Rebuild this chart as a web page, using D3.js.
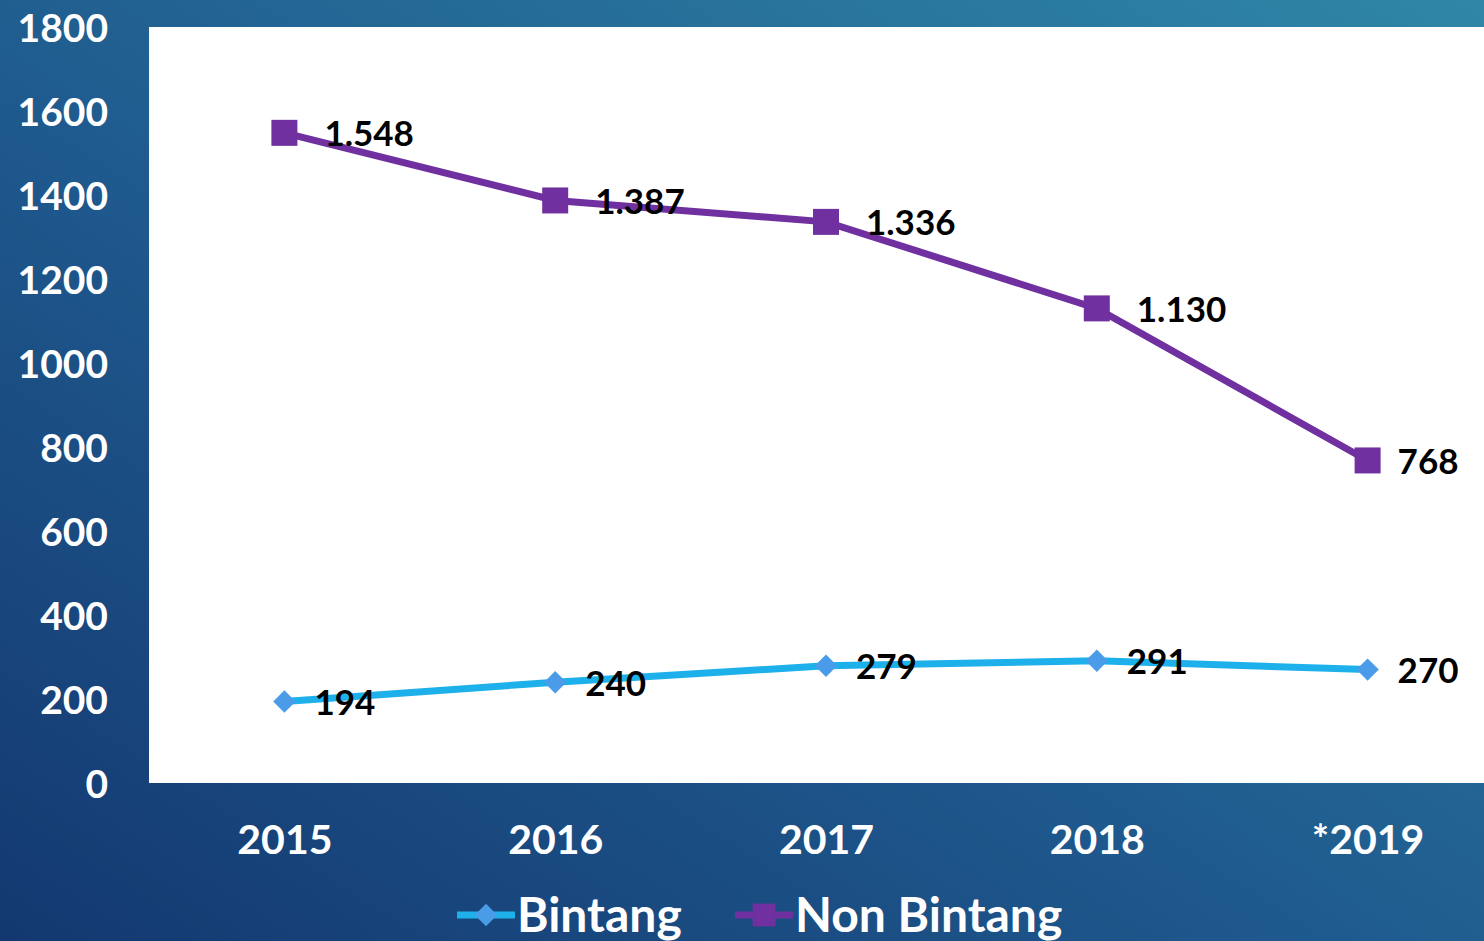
<!DOCTYPE html>
<html>
<head>
<meta charset="utf-8">
<script src="https://cdn.jsdelivr.net/npm/d3@7"></script>
<style>
  html, body { margin: 0; padding: 0; overflow: hidden; }
  body { width: 1484px; height: 941px; }
  text { font-family: "Lato", "DejaVu Sans", sans-serif; }
</style>
</head>
<body>
<div id="chart"></div>
<script>
// chart data
const years = ["2015", "2016", "2017", "2018", "*2019"];
const bintang = [194, 240, 279, 291, 270];
const nonBintang = [1548, 1387, 1336, 1130, 768];
const yTicks = [0, 200, 400, 600, 800, 1000, 1200, 1400, 1600, 1800];
const seriesNames = ["Bintang", "Non Bintang"];

const width = 1484;
const height = 941;
const plot = { left: 149, top: 27, right: 1503, bottom: 783 };

const svg = d3.select("#chart").append("svg")
    .attr("width", width)
    .attr("height", height);

// background gradient
const defs = svg.append("defs");
const grad = defs.append("linearGradient")
    .attr("id", "bg")
    .attr("x1", "0%").attr("y1", "100%")
    .attr("x2", "100%").attr("y2", "0%");
grad.append("stop").attr("offset", "0%").attr("stop-color", "#133870");
grad.append("stop").attr("offset", "45%").attr("stop-color", "#1f5a8e");
grad.append("stop").attr("offset", "100%").attr("stop-color", "#2f87a7");

svg.append("rect")
    .attr("width", width)
    .attr("height", height)
    .attr("fill", "url(#bg)");

// white plot area
svg.append("rect")
    .attr("x", plot.left)
    .attr("y", plot.top)
    .attr("width", width - plot.left)
    .attr("height", plot.bottom - plot.top)
    .attr("fill", "#ffffff");

const x = d3.scalePoint()
    .domain(years)
    .range([plot.left, plot.right])
    .padding(0.5);

const y = d3.scaleLinear()
    .domain([0, 1800])
    .range([plot.bottom, plot.top]);

// y axis
const yAxis = svg.append("g")
    .attr("transform", `translate(${plot.left},0)`)
    .call(d3.axisLeft(y).tickValues(yTicks).tickSize(0).tickPadding(41).tickFormat(d3.format("d")));
yAxis.select(".domain").remove();
yAxis.selectAll("text")
    .attr("fill", "#ffffff")
    .attr("font-size", 39)
    .attr("font-weight", "bold")
    .attr("dy", "0.36em");

// x axis
const xAxis = svg.append("g")
    .attr("transform", `translate(0,${plot.bottom})`)
    .call(d3.axisBottom(x).tickSize(0).tickPadding(42));
xAxis.select(".domain").remove();
xAxis.selectAll("text")
    .attr("fill", "#ffffff")
    .attr("font-size", 41)
    .attr("font-weight", "bold")
    .attr("dy", "0.71em");

const line = d3.line()
    .x((d, i) => x(years[i]))
    .y(d => y(d));

// Non Bintang series
svg.append("path")
    .datum(nonBintang)
    .attr("fill", "none")
    .attr("stroke", "#7030a0")
    .attr("stroke-width", 7)
    .attr("d", line);

svg.append("g")
    .selectAll("rect")
    .data(nonBintang)
    .join("rect")
    .attr("x", (d, i) => x(years[i]) - 13)
    .attr("y", d => y(d) - 13)
    .attr("width", 26)
    .attr("height", 26)
    .attr("fill", "#7030a0");

// Bintang series
svg.append("path")
    .datum(bintang)
    .attr("fill", "none")
    .attr("stroke", "#1eb0ea")
    .attr("stroke-width", 7)
    .attr("d", line);

svg.append("g")
    .selectAll("path")
    .data(bintang)
    .join("path")
    .attr("d", d3.symbol(d3.symbolDiamond2, 320))
    .attr("transform", (d, i) => `translate(${x(years[i])},${y(d)})`)
    .attr("fill", "#4a9be8");

// data labels
const fmtDot = v => d3.format(",")(v).replace(/,/g, ".");

svg.append("g")
    .selectAll("text")
    .data(nonBintang)
    .join("text")
    .attr("x", (d, i) => x(years[i]) + (d >= 1000 ? 40 : 30))
    .attr("y", d => y(d))
    .attr("dy", "0.38em")
    .attr("font-size", 35)
    .attr("font-weight", "bold")
    .attr("fill", "#000000")
    .text(d => fmtDot(d));

svg.append("g")
    .selectAll("text")
    .data(bintang)
    .join("text")
    .attr("x", (d, i) => x(years[i]) + 30)
    .attr("y", d => y(d))
    .attr("dy", "0.38em")
    .attr("font-size", 35)
    .attr("font-weight", "bold")
    .attr("fill", "#000000")
    .text(d => d);

// legend
const legend = svg.append("g");
const legendItems = [
    { name: seriesNames[0], x: 457, color: "#1eb0ea", marker: "#4a9be8", shape: d3.symbolDiamond2 },
    { name: seriesNames[1], x: 735, color: "#7030a0", marker: "#7030a0", shape: d3.symbolSquare }
];
legendItems.forEach(item => {
    const g = legend.append("g").attr("transform", `translate(${item.x},915)`);
    g.append("line")
        .attr("x1", 0).attr("x2", 58)
        .attr("stroke", item.color)
        .attr("stroke-width", 7);
    g.append("path")
        .attr("d", d3.symbol(item.shape, item.shape === d3.symbolSquare ? 520 : 320))
        .attr("transform", "translate(29,0)")
        .attr("fill", item.marker);
    g.append("text")
        .attr("x", 60)
        .attr("y", 0)
        .attr("dy", "0.36em")
        .attr("font-size", 48)
        .attr("font-weight", "bold")
        .attr("fill", "#ffffff")
        .text(item.name);
});
</script>
</body>
</html>
